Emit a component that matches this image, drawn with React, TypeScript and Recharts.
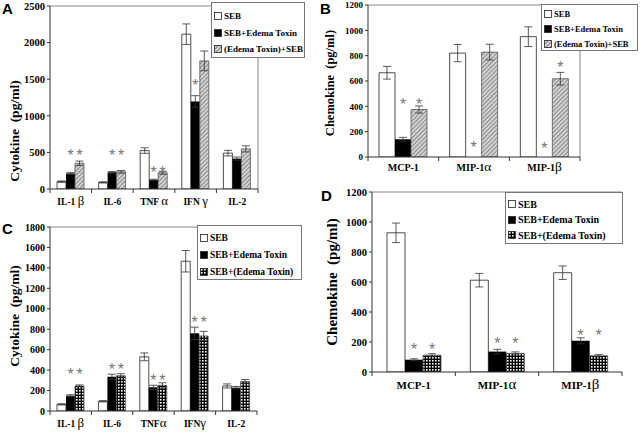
import React from "react";
import {
  BarChart,
  Bar,
  XAxis,
  YAxis,
  ErrorBar,
  LabelList,
  Legend,
  ReferenceLine,
} from "recharts";

// ---- panel A : cytokines, SEB vs edema toxin
const catA = ["IL-1 β", "IL-6", "TNF α", "IFN γ", "IL-2"];
const sebA = [100, 90, 525, 2115, 490];
const sebErrA = [10, 8, 38, 140, 38];
const etA = [212, 228, 125, 1195, 415];
const etErrA = [12, 10, 8, 80, 22];
const etSebA = [352, 235, 222, 1750, 548];
const etSebErrA = [30, 18, 20, 135, 42];
const starEtA = [512, 512, 285, 1465, null];
const starEtSebA = [512, 512, 285, null, null];
const ticksA = [0, 500, 1000, 1500, 2000, 2500];
const legendA = ["SEB", "SEB+Edema Toxin", "(Edema Toxin)+SEB"];

// ---- panel B : chemokines
const catB = ["MCP-1", "MIP-1α", "MIP-1β"];
const sebB = [665, 820, 950];
const sebErrB = [50, 68, 78];
const etB = [140, 0, 0];
const etErrB = [15, 0, 0];
const etSebB = [375, 828, 618];
const etSebErrB = [28, 62, 50];
const starEtB = [450, 108, 102];
const starEtSebB = [450, null, 735];
const ticksB = [0, 200, 400, 600, 800, 1000, 1200];
const legendB = ["SEB", "SEB+Edema Toxin", "(Edema Toxin)+SEB"];

// ---- panel C : cytokines, SEB + (edema toxin)
const catC = ["IL-1 β", "IL-6", "TNFα", "IFNγ", "IL-2"];
const sebC = [65, 95, 530, 1465, 245];
const sebErrC = [6, 6, 38, 105, 20];
const etC = [150, 335, 232, 760, 228];
const etErrC = [10, 25, 20, 60, 12];
const etSebC = [245, 345, 251, 734, 288];
const etSebErrC = [10, 20, 25, 45, 20];
const starEtC = [401, 443, 338, 907, null];
const starEtSebC = [401, 443, 338, 907, null];
const ticksC = [0, 200, 400, 600, 800, 1000, 1200, 1400, 1600, 1800];
const legendC = ["SEB", "SEB+Edema Toxin", "SEB+(Edema Toxin)"];

// ---- panel D : chemokines, SEB + (edema toxin)
const catD = ["MCP-1", "MIP-1α", "MIP-1β"];
const sebD = [928, 612, 662];
const sebErrD = [65, 45, 45];
const etD = [82, 136, 208];
const etErrD = [6, 15, 20];
const etSebD = [112, 124, 108];
const etSebErrD = [10, 10, 8];
const starEtD = [176, 218, 273];
const starEtSebD = [176, 218, 273];
const ticksD = [0, 200, 400, 600, 800, 1000, 1200];
const legendD = ["SEB", "SEB+Edema Toxin", "SEB+(Edema Toxin)"];

const SERIF = "'Liberation Serif', 'Times New Roman', serif";
const SANS = "'Liberation Sans', Arial, sans-serif";

function buildRows(
  cats: string[],
  s1: number[], e1: number[],
  s2: number[], e2: number[],
  s3: number[], e3: number[],
  k2: (number | null)[], k3: (number | null)[]
) {
  return cats.map((name, i) => ({
    name,
    s1: s1[i], e1: e1[i],
    s2: s2[i], e2: e2[i], g2: k2[i] == null ? 0 : (k2[i] as number) - s2[i], k2: k2[i],
    s3: s3[i], e3: e3[i], g3: k3[i] == null ? 0 : (k3[i] as number) - s3[i], k3: k3[i],
  }));
}

const Star = (props: any) => {
  const { x, y, width, value } = props;
  if (value == null) return null;
  return (
    <text x={x + width / 2} y={y + 9.5} textAnchor="middle" fontSize={16} fill="#777" fontFamily={SANS}>
      *
    </text>
  );
};

type Cfg = {
  id: string;
  letter: string;
  left: number; top: number; width: number; height: number;
  margin: { top: number; right: number; left: number; bottom: number };
  yWidth: number;
  max: number; ticks: number[];
  cats: string[];
  data: any[];
  legend: string[];
  barSize: number;
  tickFont: number; xFont: number; xDy: number;
  legendBox: { left: number; top: number; width: number; height: number };
  legendFont: number; rowFirst: number; rowStep: number;
  yTitle: string; labelX: number; labelY: number; labelSize: number;
  letterPos: { left: number; top: number };
  check: boolean; rightFrame: boolean;
};

function Swatch({ kind, pid }: { kind: number; pid: string }) {
  const fill = kind === 0 ? "#fff" : kind === 1 ? "#000" : `url(#${pid})`;
  return (
    <svg width={8} height={8} style={{ display: "block", marginRight: 2 }}>
      <rect x={0.5} y={0.5} width={7} height={7} fill={fill} stroke="#222" strokeWidth={0.8} />
    </svg>
  );
}

function Panel({ c }: { c: Cfg }) {
  const plotW = c.width - c.margin.left - c.margin.right - c.yWidth;
  const half = plotW / c.cats.length / 2;
  const pid = `${c.check ? "check" : "hatch"}${c.id}`;

  const Tick = (t: any) => {
    const { x, y, payload, index } = t;
    const text = String(payload.value);
    const m = text.match(/^(.*?)([\u03b1-\u03c9])$/);
    return (
      <g>
        <line x1={x + half} x2={x + half} y1={y} y2={y + 4} stroke="#333" />
        {index === 0 && <line x1={x - half} x2={x - half} y1={y} y2={y + 4} stroke="#333" />}
        <text x={x} y={y + c.xDy} textAnchor="middle" fontFamily={SERIF} fontWeight="bold" fontSize={c.xFont} fill="#000" style={{ whiteSpace: "pre" }}>
          {m ? (
            <>
              {m[1]}
              <tspan fontSize={c.xFont * 1.35} fontWeight="normal">{m[2]}</tspan>
            </>
          ) : (
            text
          )}
        </text>
      </g>
    );
  };

  const yLabel = () => (
    <text
      x={c.labelX}
      y={c.labelY}
      transform={`rotate(-90 ${c.labelX} ${c.labelY})`}
      textAnchor="middle"
      dominantBaseline="central"
      fontFamily={SERIF}
      fontWeight="bold"
      fontSize={c.labelSize}
      fill="#000"
      style={{ whiteSpace: "pre" }}
    >
      {c.yTitle}
    </text>
  );

  const legendContent = () => (
    <div
      style={{
        position: "relative",
        width: c.legendBox.width,
        height: c.legendBox.height,
        boxSizing: "border-box",
        border: "1px solid #777",
        background: "#fff",
      }}
    >
      {c.legend.map((t, i) => (
        <div
          key={t}
          style={{
            position: "absolute",
            left: 2,
            top: c.rowFirst + i * c.rowStep - 7,
            height: 14,
            display: "flex",
            alignItems: "center",
            fontFamily: SERIF,
            fontWeight: "bold",
            fontSize: c.legendFont,
            whiteSpace: "nowrap",
            color: "#000",
          }}
        >
          <Swatch kind={i} pid={pid} />
          {t}
        </div>
      ))}
    </div>
  );

  return (
    <div style={{ position: "absolute", left: c.left, top: c.top }}>
      <div
        style={{
          position: "absolute",
          left: c.letterPos.left,
          top: c.letterPos.top,
          fontFamily: SANS,
          fontWeight: "bold",
          fontSize: 15,
          zIndex: 2,
        }}
      >
        {c.letter}
      </div>
      <BarChart width={c.width} height={c.height} data={c.data} margin={c.margin} barGap={0} barSize={c.barSize}>
        <defs>
          {c.check ? (
            <pattern id={pid} patternUnits="userSpaceOnUse" width={3} height={3}>
              <rect width={3} height={3} fill="#000" />
              <rect x={1} y={1} width={1.6} height={1.6} fill="#fff" />
            </pattern>
          ) : (
            <pattern id={pid} patternUnits="userSpaceOnUse" width={3} height={3} patternTransform="rotate(45)">
              <rect width={3} height={3} fill="#d6d6d6" />
              <line x1={0.5} y1={0} x2={0.5} y2={3} stroke="#8a8a8a" strokeWidth={1.2} />
            </pattern>
          )}
        </defs>
        <ReferenceLine y={c.max} stroke="#888" />
        {c.rightFrame && <ReferenceLine x={c.cats[c.cats.length - 1]} position="end" stroke="#888" />}
        <XAxis
          dataKey="name"
          height={20}
          interval={0}
          tickLine={false}
          tickSize={0}
          tickMargin={0}
          axisLine={{ stroke: "#333" }}
          tick={Tick}
        />
        <YAxis
          type="number"
          domain={[0, c.max]}
          ticks={c.ticks}
          interval={0}
          width={c.yWidth}
          tickSize={3}
          tickMargin={2}
          allowDataOverflow
          axisLine={{ stroke: "#333" }}
          tickLine={{ stroke: "#333" }}
          tick={{ fontSize: c.tickFont, fontFamily: SERIF, fontWeight: "bold", fill: "#000" }}
          label={yLabel}
        />
        <Bar dataKey="s1" stackId="a" fill="#fff" stroke="#222" strokeWidth={0.8} isAnimationActive={false}>
          <ErrorBar dataKey="e1" width={4} stroke="#333" strokeWidth={0.8} />
        </Bar>
        <Bar dataKey="s2" stackId="b" fill="#000" isAnimationActive={false}>
          <ErrorBar dataKey="e2" width={4} stroke="#333" strokeWidth={0.8} />
        </Bar>
        <Bar dataKey="g2" stackId="b" fill="none" isAnimationActive={false}>
          <LabelList dataKey="k2" content={Star} />
        </Bar>
        <Bar dataKey="s3" stackId="c" fill={`url(#${pid})`} stroke="#555" strokeWidth={0.8} isAnimationActive={false}>
          <ErrorBar dataKey="e3" width={4} stroke="#333" strokeWidth={0.8} />
        </Bar>
        <Bar dataKey="g3" stackId="c" fill="none" isAnimationActive={false}>
          <LabelList dataKey="k3" content={Star} />
        </Bar>
        <Legend
          layout="vertical"
          align="center"
          verticalAlign="middle"
          wrapperStyle={{
            left: c.legendBox.left,
            top: c.legendBox.top,
            width: c.legendBox.width,
            height: c.legendBox.height,
          }}
          content={legendContent}
        />
      </BarChart>
    </div>
  );
}

const panels: Cfg[] = [
  {
    id: "A", letter: "A",
    left: 0, top: 0, width: 320, height: 215,
    margin: { top: 6, right: 62, left: 20, bottom: 6 }, yWidth: 30,
    max: 2500, ticks: ticksA, cats: catA,
    data: buildRows(catA, sebA, sebErrA, etA, etErrA, etSebA, etSebErrA, starEtA, starEtSebA),
    legend: legendA, barSize: 9,
    tickFont: 10.5, xFont: 9.5, xDy: 16,
    legendBox: { left: 211, top: 2, width: 94, height: 56 },
    legendFont: 9, rowFirst: 13, rowStep: 16.5,
    yTitle: "Cytokine  (pg/ml)", labelX: 14, labelY: 131, labelSize: 13.5,
    letterPos: { left: 2, top: 0 }, check: false, rightFrame: true,
  },
  {
    id: "B", letter: "B",
    left: 320, top: 0, width: 320, height: 215,
    margin: { top: 5, right: 60, left: 18, bottom: 38 }, yWidth: 30,
    max: 1200, ticks: ticksB, cats: catB,
    data: buildRows(catB, sebB, sebErrB, etB, etErrB, etSebB, etSebErrB, starEtB, starEtSebB),
    legend: legendB, barSize: 16,
    tickFont: 9, xFont: 10, xDy: 14,
    legendBox: { left: 221, top: 4, width: 97, height: 47 },
    legendFont: 8.5, rowFirst: 9, rowStep: 15,
    yTitle: "Chemokine  (pg/ml)", labelX: 10, labelY: 83, labelSize: 12.5,
    letterPos: { left: 0, top: 0 }, check: false, rightFrame: true,
  },
  {
    id: "C", letter: "C",
    left: 0, top: 215, width: 320, height: 220,
    margin: { top: 12, right: 63, left: 20, bottom: 4 }, yWidth: 30,
    max: 1800, ticks: ticksC, cats: catC,
    data: buildRows(catC, sebC, sebErrC, etC, etErrC, etSebC, etSebErrC, starEtC, starEtSebC),
    legend: legendC, barSize: 9,
    tickFont: 10, xFont: 9.5, xDy: 15.5,
    legendBox: { left: 197, top: 10, width: 105, height: 55 },
    legendFont: 9.5, rowFirst: 12, rowStep: 17,
    yTitle: "Cytokine  (pg/ml)", labelX: 14, labelY: 101, labelSize: 13.5,
    letterPos: { left: 2, top: 5 }, check: true, rightFrame: false,
  },
  {
    id: "D", letter: "D",
    left: 320, top: 185, width: 320, height: 250,
    margin: { top: 7, right: 18, left: 22, bottom: 43 }, yWidth: 30,
    max: 1200, ticks: ticksD, cats: catD,
    data: buildRows(catD, sebD, sebErrD, etD, etErrD, etSebD, etSebErrD, starEtD, starEtSebD),
    legend: legendD, barSize: 18,
    tickFont: 10.5, xFont: 11, xDy: 17,
    legendBox: { left: 185, top: 7, width: 118, height: 52 },
    legendFont: 10, rowFirst: 11, rowStep: 15.5,
    yTitle: "Chemokine  (pg/ml)", labelX: 12, labelY: 97, labelSize: 15,
    letterPos: { left: 1, top: 2 }, check: true, rightFrame: false,
  },
];

export default function App() {
  return (
    <div style={{ position: "absolute", left: 0, top: 0, width: 640, height: 435, background: "#fff", overflow: "hidden" }}>
      {panels.map((p) => (
        <Panel key={p.id} c={p} />
      ))}
    </div>
  );
}
